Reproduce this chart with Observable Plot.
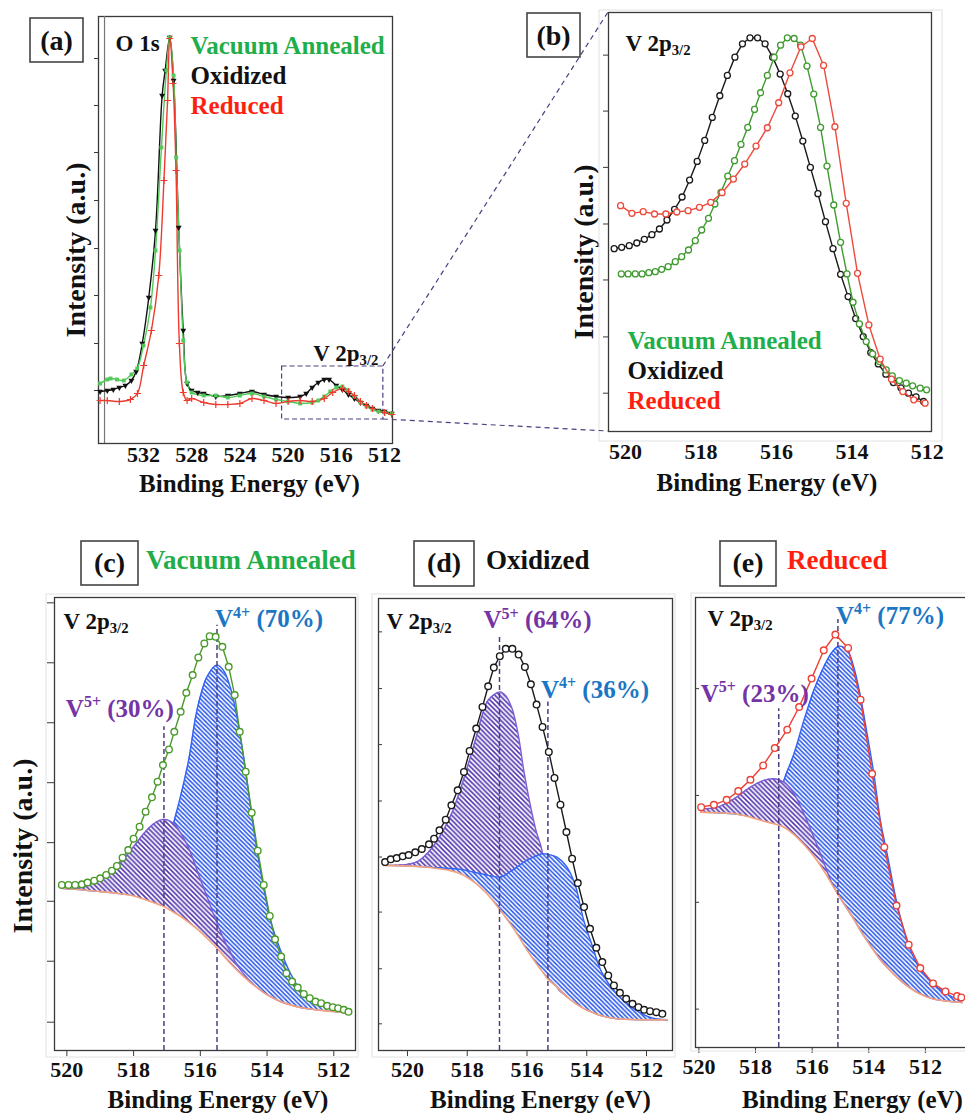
<!DOCTYPE html>
<html><head><meta charset="utf-8">
<script src="https://cdn.jsdelivr.net/npm/d3@7"></script>
<script src="https://cdn.jsdelivr.net/npm/@observablehq/plot@0.6"></script>
<style>
html,body{margin:0;padding:0;background:#fff;}
#fig{position:relative;width:965px;height:1114px;overflow:hidden;background:#fff;}
</style></head>
<body><div id="fig"></div>
<script>
// ================= DATA =================
const seriesNames = ["Vacuum Annealed", "Oxidized", "Reduced"];
const seriesLabelColors = ["#1fae4a", "#111111", "#ff1f10"];

// ---- panel (a): O 1s + V 2p survey (binding energy eV, intensity a.u.) ----
const aEvVac = [535.6,535.0,534.73,534.2,533.63,533.0,532.52,532.0,531.42,531.0,530.51,530.1,529.82,529.5,529.29,529.0,528.7,528.4,528.0,527.0,526.0,525.0,524.0,523.0,522.0,521.0,520.0,519.0,518.0,517.5,517.0,516.5,516.0,515.5,515.0,514.5,514.0,513.5,513.0,512.5,512.0,511.4];
const aIntVac = [60,64,65,64,63,69,75,98,136,193,296,373,406,368,286,193,103,61,51,48,48,46,48,50,47,44,42,40,41,43,47,52,56,57,53,47,41,37,34,32,31,30];
const aEvOx = [535.6,535.0,534.5,534.0,533.5,533.0,532.6,532.1,531.56,531.0,530.45,530.2,529.82,529.5,529.08,528.7,528.38,528.0,527.5,527.0,526.0,525.0,524.0,523.0,522.0,521.0,520.0,519.0,518.5,518.0,517.5,517.0,516.6,516.0,515.5,515.0,514.5,514.0,513.5,513.0,512.5,512.0,511.4];
const aIntOx = [52,53,54,56,58,63,72,100,146,213,348,373,406,363,216,113,60,53,51,50,47,48,50,52,49,47,46,47,50,56,61,64,64,58,54,49,45,41,38,35,33,32,30];
const aEvRed = [535.6,535.0,534.0,533.08,532.5,531.98,531.34,530.73,530.3,530.0,529.82,529.54,529.3,529.02,528.7,528.38,528.0,527.0,526.0,525.0,524.0,523.0,522.0,521.0,520.0,519.0,518.0,517.0,516.3,515.5,515.0,514.5,514.0,513.5,513.0,512.0,511.4];
const aIntRed = [43,43,42,44,50,78,113,168,263,343,405,360,273,100,51,43,45,41,39,39,40,45,43,40,42,43,42,45,51,55,52,48,42,38,35,31,29];
const aTicksX = [532,528,524,520,516,512];
const aTicksY = [53,100,148,195,243,291,338,385];
const zoomWindow = [{x1: 520.5, x2: 512.1, y1: 24, y2: 77}];

// ---- panel (b): V 2p3/2 comparison ----
const bEvOx = [520.3,520.1,519.9,519.7,519.5,519.3,519.1,518.9,518.7,518.5,518.3,518.1,517.9,517.7,517.5,517.3,517.1,516.9,516.7,516.5,516.3,516.1,515.9,515.7,515.5,515.3,515.1,514.9,514.7,514.5,514.3,514.1,513.9,513.7,513.5,513.3,513.1,512.9,512.7,512.5,512.3,512.1];
const bIntOx = [549,553,558,566,577,591,608,635,667,704,755,811,874,943,1008,1069,1124,1164,1182,1182,1164,1124,1073,1014,947,872,793,714,630,549,472,405,339,285,237,203,172,147,131,115,104,90];
const bEvVac = [520.11,519.93,519.74,519.56,519.38,519.21,519.04,518.87,518.68,518.51,518.33,518.15,517.98,517.80,517.63,517.47,517.29,517.11,516.94,516.76,516.58,516.42,516.24,516.06,515.89,515.71,515.53,515.36,515.19,515.01,514.83,514.66,514.48,514.30,514.13,513.97,513.80,513.62,513.45,513.27,513.09,512.93,512.74,512.56,512.39,512.19,512.02];
const bIntVac = [473,473,473,473,477,480,487,495,510,525,545,573,605,640,683,718,767,813,862,913,967,1017,1069,1123,1160,1182,1180,1160,1097,1013,913,797,680,568,473,388,323,270,233,210,185,167,153,145,137,130,125];
const bEvRed = [520.13,519.83,519.53,519.23,518.93,518.64,518.34,518.04,517.74,517.44,517.14,516.84,516.54,516.24,515.94,515.64,515.35,515.05,514.75,514.45,514.15,513.85,513.55,513.25,512.95,512.65,512.36,512.06];
const bIntRed = [678,655,660,653,653,659,663,673,688,717,758,803,857,912,987,1077,1155,1180,1099,915,685,475,320,217,157,120,95,85];
const bTicksX = [520,518,516,514,512];
const bTicksY = [115,284,455,623,793,962,1130];

// ---- fitted panels: common ticks ----
const fitTicksX = [520,518,516,514,512];

// ---- panel (c): Vacuum Annealed fit ----
const cEv = [520.15,519.95,519.75,519.55,519.38,519.18,519.00,518.82,518.65,518.50,518.33,518.16,518.00,517.82,517.64,517.45,517.28,517.12,516.94,516.78,516.59,516.42,516.23,516.06,515.88,515.72,515.54,515.34,515.15,514.97,514.82,514.64,514.46,514.28,514.10,513.92,513.76,513.58,513.42,513.25,513.08,512.90,512.72,512.55,512.38,512.20,512.03,511.87,511.70,511.56];
const cInt = [497,497,497,499,504,510,517,527,540,554,579,602,636,672,717,760,807,857,904,957,1017,1074,1127,1180,1222,1244,1242,1212,1152,1067,957,837,714,600,497,404,334,282,232,207,189,170,157,147,142,134,130,127,122,116];
const cFitEv = [520.15,519.5,519.0,518.5,518.0,517.6,517.3,517.09,516.8,516.6,516.35,516.1,515.8,515.5,515.3,515.1,514.9,514.7,514.5,514.3,514.1,513.9,513.6,513.3,513.0,512.5,512.0,511.56];
const cBackground = [487,482,477,472,464,451,440,432,415,403,385,365,337,307,284,261,241,222,204,189,174,162,147,137,129,122,117,112];
const cV5 = [487,490,517,552,612,662,687,694,682,655,608,542,462,382,335,295,257,230,207,189,174,162,147,137,129,122,117,112];
const cV4 = [487,482,477,472,466,455,450,520,682,760,872,1022,1122,1157,1140,1090,1000,880,735,600,488,392,302,232,182,142,124,114];
const cPeakEv = [517.09, 515.5];      // [V5+, V4+]
const cPeakTop = [972, 1277];
const cShare = [30, 70];
const cTicksY = [85,268,448,624,804,984,1164,1344];

// ---- panel (d): Oxidized fit ----
const dEv = [520.75,520.56,520.36,520.16,519.96,519.74,519.52,519.28,519.11,518.93,518.72,518.53,518.32,518.11,517.92,517.70,517.49,517.30,517.11,516.91,516.71,516.49,516.28,516.07,515.87,515.68,515.48,515.27,515.08,514.88,514.68,514.49,514.30,514.09,513.89,513.68,513.48,513.28,513.09,512.89,512.68,512.47,512.27,512.08,511.88,511.67,511.47];
const dInt = [565,573,577,582,586,594,604,618,635,660,692,735,780,835,898,965,1030,1092,1148,1182,1204,1204,1187,1150,1098,1037,970,895,817,737,655,575,502,430,365,308,265,225,195,173,155,140,130,122,118,115,110];
const dFitEv = [520.8,519.7,519.2,518.6,518.15,517.7,517.5,517.3,516.9,516.7,516.5,516.3,516.1,515.9,515.7,515.5,515.3,515.0,514.7,514.4,514.1,513.8,513.5,513.0,512.5,511.9,511.3];
const dBackground = [555,552,548,540,527,500,484,466,421,397,372,345,315,288,262,238,214,190,164,143,126,114,104,95,93,92,92];
const dV5 = [555,565,605,695,805,940,1005,1050,1075,1062,1025,950,835,740,660,600,420,190,164,143,126,114,104,95,93,92,92];
const dV4 = [555,552,549,546,542,533,529,525,520,528,540,552,565,575,583,590,588,580,555,500,390,310,235,170,130,100,92];
const dPeakEv = [516.92, 515.30];
const dPeakTop = [1245, 1045];
const dShare = [64, 36];
const dTicksY = [80,245,415,580,748,917,1085,1255];

// ---- panel (e): Reduced fit ----
const eEv = [519.92,519.47,519.02,518.61,518.18,517.73,517.32,516.88,516.46,516.02,515.59,515.18,514.73,514.29,513.88,513.45,513.02,512.59,512.18,511.73,511.29,510.88,510.73];
const eInt = [720,727,742,768,802,845,897,952,1020,1105,1190,1237,1197,1042,820,600,425,308,238,192,168,154,150];
const eFitEv = [519.94,519.35,518.76,518.18,517.71,517.35,517.0,516.64,516.29,515.94,515.59,515.29,515.06,514.76,514.53,514.29,514.06,513.82,513.59,513.35,513.0,512.65,512.29,511.71,511.12,510.7];
const eBackground = [705,703,700,690,678,670,660,638,608,573,530,487,455,415,385,350,320,290,263,240,210,185,165,145,138,135];
const eV5 = [715,720,745,780,800,805,795,760,700,630,555,490,455,415,385,350,320,290,263,240,210,185,165,145,138,135];
const eV4 = [705,703,700,692,690,700,800,880,980,1070,1140,1185,1202,1190,1140,1050,940,820,680,580,430,320,250,190,155,140];
const ePeakEv = [517.18, 515.09];
const ePeakTop = [1015, 1282];
const eShare = [23, 77];
const eTicksY = [115,435,755,1075];

// ================= HELPERS =================
const NS = "http://www.w3.org/2000/svg";
const FONT = '"Liberation Serif", "Times New Roman", Times, serif';
const STYLE = {fontFamily: FONT, fontWeight: "bold", background: "transparent", color: "#222", overflow: "visible"};
const fig = document.getElementById("fig");

const rows = (ev, v) => ev.map((e, i) => ({ev: e, I: v[i]}));
const fitRows = (ev, bg, v5, v4) => ev.map((e, i) => ({ev: e, bg: bg[i], v5: v5[i], v4: v4[i]}));
const peakRows = (ev, top, share) => ev.map((e, i) => ({ev: e, top: top[i], label: (i === 0 ? "V^{5+}" : "V^{4+}") + " (" + share[i] + "%)"}));

function richText(root) {
  root.querySelectorAll("text").forEach(t => {
    const s = t.textContent;
    if (!/[_^]\{/.test(s)) return;
    const fs = parseFloat(getComputedStyle(t).fontSize) || 20;
    while (t.firstChild) t.removeChild(t.firstChild);
    const parts = s.split(/([_^]\{[^}]*\})/).filter(p => p.length);
    let shift = 0;
    for (const p of parts) {
      const ts = document.createElementNS(NS, "tspan");
      let target = 0;
      if (p.startsWith("^{")) { target = -0.38 * fs; ts.setAttribute("font-size", (0.64 * fs).toFixed(1)); ts.textContent = p.slice(2, -1); }
      else if (p.startsWith("_{")) { target = 0.2 * fs; ts.setAttribute("font-size", (0.64 * fs).toFixed(1)); ts.textContent = p.slice(2, -1); }
      else ts.textContent = p;
      ts.setAttribute("dy", (target - shift).toFixed(2));
      shift = target;
      t.appendChild(ts);
    }
  });
}

function place(plot, left, top) {
  plot.style.position = "absolute";
  plot.style.left = left + "px";
  plot.style.top = top + "px";
  fig.appendChild(plot);
  richText(plot);
  return plot;
}

// hatch patterns
(function makePatterns() {
  const svg = d3.select("body").append("svg").attr("width", 0).attr("height", 0).style("position", "absolute");
  const defs = svg.append("defs");
  [["hatchBlue", "#2856ea", 4.4, 1.5], ["hatchPurple", "#5234ae", 4.8, 1.55]].forEach(([id, c, w, sw]) => {
    const p = defs.append("pattern").attr("id", id).attr("patternUnits", "userSpaceOnUse").attr("width", w).attr("height", w);
    p.append("rect").attr("width", w).attr("height", w).attr("fill", "#fff");
    p.append("path")
      .attr("d", `M${-w/2},${-w/2}L${w*1.5},${w*1.5}M${-w/2},${w/2}L${w/2},${w*1.5}M${w/2},${-w/2}L${w*1.5},${w/2}`)
      .attr("stroke", c).attr("stroke-width", sw).attr("fill", "none");
  });
})();

const FRAME = "#3a3a3a";
const DASH = "#4e3d80";
const LABEL_BLUE = "#1b76c4";
const LABEL_PURPLE = "#7434a6";
const titleText = (dx, dy) => Plot.text(["Binding Energy (eV)"], {text: d => d, frameAnchor: "bottom", textAnchor: "middle", lineAnchor: "bottom", dx, dy, fontSize: 25, fill: "#111"});
const yTitle = (dx, dy) => Plot.text(["Intensity (a.u.)"], {text: d => d, frameAnchor: "left", textAnchor: "middle", lineAnchor: "middle", rotate: -90, dx, dy, fontSize: 28, fill: "#111"});
const cornerLabel = (txt, dx, dy) => Plot.text([txt], {text: d => d, frameAnchor: "top-left", textAnchor: "start", lineAnchor: "bottom", dx, dy, fontSize: 23, fill: "#111"});

// ================= PANEL (a) =================
const aVac = rows(aEvVac, aIntVac), aOx = rows(aEvOx, aIntOx), aRed = rows(aEvRed, aIntRed);
const aXDomain = [535.73, 511.34];
const pa = Plot.plot({
  width: 400, height: 500,
  marginLeft: 98, marginRight: 8, marginTop: 16, marginBottom: 57,
  x: {domain: aXDomain}, y: {domain: [0, 427]},
  style: STYLE,
  marks: [
    Plot.frame({stroke: FRAME, strokeWidth: 1.3}),
    Plot.ruleX([aXDomain[0] - 0.5], {stroke: "#777", strokeWidth: 1.2}),
    Plot.axisX({ticks: aTicksX, tickSize: 0, tickPadding: 3, fontSize: 22, label: null, fill: "#111"}),
    Plot.axisY({ticks: aTicksY, tickSize: 4, fill: "none", stroke: FRAME}),
    Plot.rect(zoomWindow, {x1: "x1", x2: "x2", y1: "y1", y2: "y2", fill: "none", stroke: DASH, strokeWidth: 1.2, strokeDasharray: "5,3"}),
    Plot.line(aOx, {x: "ev", y: "I", stroke: "#111", strokeWidth: 1.4, curve: "catmull-rom"}),
    Plot.line(aVac, {x: "ev", y: "I", stroke: "#52c95a", strokeWidth: 1.4, curve: "catmull-rom"}),
    Plot.line(aRed, {x: "ev", y: "I", stroke: "#ee3b2e", strokeWidth: 1.4, curve: "catmull-rom"}),
    Plot.dot(aOx, {x: "ev", y: "I", symbol: "triangle", rotate: 180, r: 2.2, fill: "#111"}),
    Plot.dot(aVac, {x: "ev", y: "I", symbol: "square", r: 2.2, fill: "#52c95a"}),
    Plot.dot(aRed, {x: "ev", y: "I", symbol: "plus", r: 2.4, stroke: "#ee3b2e", strokeWidth: 1.2}),
    cornerLabel("O 1s", 17, 34),
    ...seriesNames.map((n, i) => Plot.text([n], {text: d => d, frameAnchor: "top-left", textAnchor: "start", lineAnchor: "bottom", dx: 92, dy: 37 + 30 * i, fontSize: 25, fill: seriesLabelColors[i]})),
    Plot.text(zoomWindow, {x: "x2", y: "y2", text: () => "V 2p_{3/2}", textAnchor: "end", lineAnchor: "bottom", dx: -5, dy: -6, fontSize: 23, fill: "#111"}),
    titleText(4, 48),
    yTitle(-22, 20)
  ]
});
place(pa, 0, 0);

// ================= PANEL (b) =================
const bXDomain = [520.45, 511.89];
const bSeries = [
  {d: rows(bEvOx, bIntOx), c: "#1a1a1a"},
  {d: rows(bEvVac, bIntVac), c: "#3f9b2f"},
  {d: rows(bEvRed, bIntRed), c: "#ec4a3c"}
];
const pb = Plot.plot({
  width: 405, height: 500,
  marginLeft: 48, marginRight: 34, marginTop: 12, marginBottom: 69,
  x: {domain: bXDomain}, y: {domain: [0, 1258]},
  style: STYLE,
  marks: [
    Plot.frame({stroke: FRAME, strokeWidth: 1.3}),
    Plot.axisX({ticks: bTicksX, tickSize: 0, tickPadding: 12, fontSize: 22, label: null, fill: "#111"}),
    Plot.axisY({ticks: bTicksY, tickSize: 5, fill: "none", stroke: FRAME}),
    ...bSeries.flatMap(s => [
      Plot.line(s.d, {x: "ev", y: "I", stroke: s.c, strokeWidth: 1.4}),
      Plot.dot(s.d, {x: "ev", y: "I", r: 3, stroke: s.c, fill: "white", strokeWidth: 1.3})
    ]),
    cornerLabel("V 2p_{3/2}", 17, 38),
    ...seriesNames.map((n, i) => Plot.text([n], {text: d => d, frameAnchor: "bottom-left", textAnchor: "start", lineAnchor: "bottom", dx: 19, dy: -83 + 30 * i, fontSize: 25, fill: seriesLabelColors[i]})),
    titleText(-3, 59),
    yTitle(-24, 30)
  ]
});
place(pb, 560, 0);

// ================= FIT PANELS =================
function fitPlot(o) {
  const comp = o.comp;
  const blue = [
    Plot.areaY(comp, {x: "ev", y1: "bg", y2: "v4", fill: "url(#hatchBlue)", curve: "catmull-rom"}),
    Plot.line(comp, {x: "ev", y: "v4", stroke: "#2f62f5", strokeWidth: 1.4, curve: "catmull-rom"})
  ];
  const purple = [
    Plot.areaY(comp, {x: "ev", y1: "bg", y2: "v5", fill: "url(#hatchPurple)", curve: "catmull-rom"}),
    Plot.line(comp, {x: "ev", y: "v5", stroke: "#7b5cd6", strokeWidth: 1.4, curve: "catmull-rom"})
  ];
  const layers = o.purpleOnTop ? [...blue, ...purple] : [...purple, ...blue];
  return Plot.plot({
    width: o.width, height: o.height,
    marginLeft: o.m[0], marginRight: o.m[1], marginTop: o.m[2], marginBottom: o.m[3],
    x: {domain: o.xDomain}, y: {domain: o.yDomain},
    style: STYLE,
    marks: [
      Plot.frame({stroke: FRAME, strokeWidth: 1.3}),
      Plot.axisX({ticks: fitTicksX, tickSize: 6, tickPadding: o.tickPadding, fontSize: 22, label: null, fill: "#111", stroke: FRAME}),
      Plot.axisY({ticks: o.yTicks, tickSize: o.yTickSize, fill: "none", stroke: FRAME}),
      ...layers,
      Plot.line(comp, {x: "ev", y: "bg", stroke: "#f3a27c", strokeWidth: 1.6, curve: "catmull-rom"}),
      Plot.ruleX(o.peaks, {x: "ev", y1: 0, y2: "top", stroke: DASH, strokeWidth: 1.5, strokeDasharray: "5,3"}),
      Plot.line(o.data, {x: "ev", y: "I", stroke: o.color, strokeWidth: 1.4}),
      Plot.dot(o.data, {x: "ev", y: "I", r: 3.3, stroke: o.color, fill: "white", strokeWidth: 1.4}),
      cornerLabel("V 2p_{3/2}", o.corner[0], o.corner[1]),
      ...o.peaks.map((p, i) => Plot.text([p], {x: "ev", y: "top", text: "label", textAnchor: o.peakText[i][0], lineAnchor: "bottom", dx: o.peakText[i][1], dy: o.peakText[i][2], fontSize: 25, fill: i === 0 ? LABEL_PURPLE : LABEL_BLUE})),
      titleText(o.title[0], o.title[1]),
      ...(o.yTitle ? [yTitle(o.yTitle[0], o.yTitle[1])] : [])
    ]
  });
}

const pc = fitPlot({
  width: 360, height: 554, m: [54, 5, 37, 64],
  xDomain: [520.37, 511.35], yDomain: [0, 1360],
  yTicks: cTicksY, yTickSize: 7, tickPadding: 5,
  comp: fitRows(cFitEv, cBackground, cV5, cV4),
  data: rows(cEv, cInt), color: "#4a9a2b",
  peaks: peakRows(cPeakEv, cPeakTop, cShare),
  peakText: [["end", 10, -10], ["start", -2, 2]],
  purpleOnTop: true, corner: [9, 31], title: [13, 57], yTitle: [-31, 22]
});
place(pc, 0, 560);

const pd = fitPlot({
  width: 330, height: 554, m: [28, 8, 38, 64],
  xDomain: [520.97, 511.13], yDomain: [0, 1355],
  yTicks: dTicksY, yTickSize: -4, tickPadding: 5,
  comp: fitRows(dFitEv, dBackground, dV5, dV4),
  data: rows(dEv, dInt), color: "#1a1a1a",
  peaks: peakRows(dPeakEv, dPeakTop, dShare),
  peakText: [["start", -16, -7], ["start", -7, -4]],
  purpleOnTop: false, corner: [8, 30], title: [15, 57]
});
place(pd, 350, 560);

const pe = fitPlot({
  width: 330, height: 554, m: [45, 5, 37, 67],
  xDomain: [520.12, 510.23], yDomain: [0, 1348],
  yTicks: eTicksY, yTickSize: -4, tickPadding: 5,
  comp: fitRows(eFitEv, eBackground, eV5, eV4),
  data: rows(eEv, eInt), color: "#ee4035",
  peaks: peakRows(ePeakEv, ePeakTop, eShare),
  peakText: [["end", 30, -7], ["start", -2, 4]],
  purpleOnTop: true, corner: [12, 28], title: [17, 60]
});
place(pe, 650, 560);

// ================= OVERLAY (panel tags, titles, zoom connectors) =================
const ov = d3.create("svg").attr("width", 965).attr("height", 1114)
  .style("position", "absolute").style("left", "0px").style("top", "0px").style("pointer-events", "none")
  .style("font-family", FONT).style("font-weight", "bold");

// faint outer borders
[[599, 10, 343, 431], [46, 594, 312, 463], [372, 594, 303, 463], [691, 593, 300, 458]].forEach(([x, y, w, h]) =>
  ov.append("rect").attr("x", x).attr("y", y).attr("width", w).attr("height", h).attr("fill", "none").attr("stroke", "#e2e2e2").attr("stroke-width", 1));

// zoom connectors computed from the two panels' scales
(function connectors() {
  const sax = pa.scale("x"), say = pa.scale("y"), sbx = pb.scale("x"), sby = pb.scale("y");
  const ax = d3.scaleLinear(sax.domain, sax.range), ay = d3.scaleLinear(say.domain, say.range);
  const bxs = d3.scaleLinear(sbx.domain, sbx.range), bys = d3.scaleLinear(sby.domain, sby.range);
  const w = zoomWindow[0];
  const x0 = ax(w.x2), yTop = ay(w.y2), yBot = ay(w.y1);
  const bx = 560 + bxs(sbx.domain[0]), byTop = bys(sby.domain[1]), byBot = bys(sby.domain[0]);
  ov.append("line").attr("x1", x0).attr("y1", yTop).attr("x2", bx).attr("y2", byTop)
    .attr("stroke", DASH).attr("stroke-width", 1.2).attr("stroke-dasharray", "5,4");
  ov.append("line").attr("x1", x0).attr("y1", yBot).attr("x2", bx).attr("y2", byBot)
    .attr("stroke", DASH).attr("stroke-width", 1.2).attr("stroke-dasharray", "5,4");
})();

const tags = [
  {t: "(a)", x: 30, y: 18, w: 53, h: 44, base: 50},
  {t: "(b)", x: 527, y: 13, w: 53, h: 44, base: 45},
  {t: "(c)", x: 81, y: 541, w: 57, h: 44, base: 572, title: seriesNames[0], tc: seriesLabelColors[0], tx: 146},
  {t: "(d)", x: 414, y: 541, w: 60, h: 45, base: 572, title: seriesNames[1], tc: seriesLabelColors[1], tx: 486},
  {t: "(e)", x: 720, y: 541, w: 56, h: 45, base: 572, title: seriesNames[2], tc: seriesLabelColors[2], tx: 787}
];
tags.forEach(g => {
  ov.append("rect").attr("x", g.x).attr("y", g.y).attr("width", g.w).attr("height", g.h)
    .attr("fill", "#fff").attr("stroke", "#444").attr("stroke-width", 1.6);
  ov.append("text").attr("x", g.x + g.w / 2).attr("y", g.base).attr("text-anchor", "middle")
    .attr("font-size", 28).attr("fill", "#111").text(g.t);
  if (g.title) ov.append("text").attr("x", g.tx).attr("y", 569).attr("font-size", 27).attr("fill", g.tc).text(g.title);
});
fig.appendChild(ov.node());
</script>
</body></html>
